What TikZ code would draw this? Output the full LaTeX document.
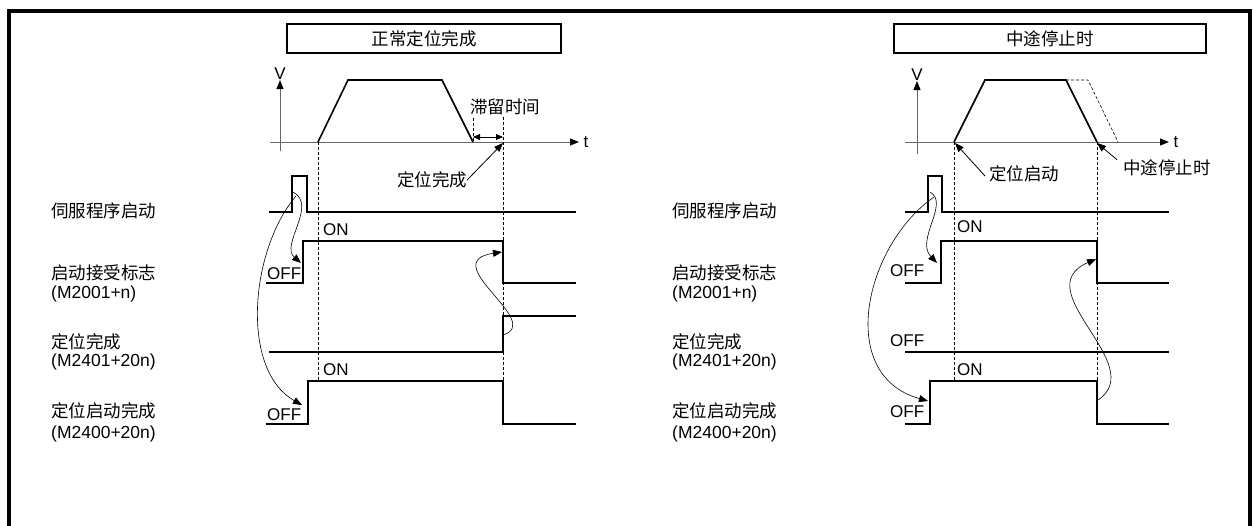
\documentclass[tikz,border=0pt]{standalone}
\usepackage{fontspec}
\setmainfont{Liberation Sans}
\newfontfamily\cjk{Noto Sans CJK SC}
\usetikzlibrary{positioning,arrows.meta}

\begin{document}
\begin{tikzpicture}[x=1pt, y=-1pt,
  lbl/.style={anchor=west, inner sep=0pt, font=\fontsize{17.5}{19}\selectfont\cjk},
  lat/.style={anchor=west, inner sep=0pt, font=\fontsize{17}{19}\selectfont},
  ttl/.style={draw, line width=1.5pt, minimum height=29pt, inner sep=0pt, font=\fontsize{17.5}{19}\selectfont\cjk},
  sig/.style={line width=1.6pt},
  ax/.style={draw=black!60, line width=1pt},
  guide/.style={line width=0.6pt, dash pattern=on 3pt off 2pt},
  arr/.style={-{Triangle[length=9pt, width=7pt, color=black]}},
  carr/.style={line width=0.6pt, -{Triangle[length=9pt, width=7pt]}}]
\useasboundingbox (0,0) rectangle (1253,525);
\clip (0,0) rectangle (1253,525);
\draw[line width=4pt] (9,540) -- (9,11) -- (1250,11) -- (1250,540);

% row labels
\foreach \dx/\s in {51/L, 672/R} {
  \node[lbl] (srv\s) at (\dx,211) {伺服程序启动};
  \node[lbl] (acc\s) at (\dx,273) {启动接受标志};
  \node[lat, font=\fontsize{17.5}{19}\selectfont] (accm\s) at (\dx,294) {(M2001+n)};
  \node[lbl] (dw\s) at (\dx,342) {定位完成};
  \node[lat, font=\fontsize{17.5}{19}\selectfont] (dwm\s) at (\dx,362) {(M2401+20n)};
  \node[lbl] (sd\s) at (\dx,411) {定位启动完成};
  \node[lat, font=\fontsize{17.5}{19}\selectfont] (sdm\s) at (\dx,434) {(M2400+20n)};
}

% normal positioning completion
\node[ttl, minimum width=274pt] (ttlL) at (424,38.5) {正常定位完成};
\draw[ax, arr] (280,151) -- (280,80) node[lat, anchor=south] (vL) {V};
\draw[ax, arr] (270,142) -- (579,142) node[lat, xshift=4pt] (tL) {t};
\draw[sig] (318,142) -- (348,80) -- (442,80) -- (473,142);
\draw[guide] (318,142) -- (318,381);
\draw[guide] (503,117) -- (503,381);
\draw[guide] (473,118) -- (473,142);
\node[lbl, anchor=center] (dwellL) at (505,107) {滞留时间};
\draw[line width=0.8pt, {Triangle[length=7pt, width=6pt]}-{Triangle[length=7pt, width=6pt]}] (473,137) -- (503,137);
\node[lbl, anchor=center] (donL) at (432,180) {定位完成};
\coordinate (endL) at (503,143);
\draw[line width=0.8pt, arr] (donL.east) -- (endL);

\draw[sig] (269,212) -- (292,212) -- (292,176) -- (307,176) -- (307,212) -- (576,212);
\draw[sig] (266,283) -- (303,283) -- (303,241) -- (503,241) -- (503,283) -- (576,283);
\draw[sig] (269,352) -- (503,352) -- (503,316) -- (576,316);
\draw[sig] (266,424) -- (308,424) -- (308,381) -- (503,381) -- (503,424) -- (576,424);
\node[lat] (on1L) at (323,230) {ON};
\node[lat] (on2L) at (323,370) {ON};
\node[lat] (off1L) at (267,273.5) {OFF};
\node[lat] (off2L) at (267,415) {OFF};

\coordinate (p1L) at (293,192);
\coordinate (p2L) at (296,196);
\coordinate (a1L) at (301,263);
\coordinate (a2L) at (302,405);
\coordinate (c1L) at (503,335);
\coordinate (a3L) at (502,252);
\draw[carr] (p1L) .. controls (318,205) and (280,245) .. (a1L);
\draw[carr] (p2L) .. controls (250,250) and (240,370) .. (a2L);
\draw[carr] (c1L) .. controls (545,322) and (435,262) .. (a3L);

% stop midway
\node[ttl, minimum width=312pt] (ttlR) at (1050,38.5) {中途停止时};
\draw[ax, arr] (917,154) -- (917,81) node[lat, anchor=south] (vR) {V};
\draw[ax, arr] (905,142) -- (1169,142) node[lat, xshift=4pt] (tR) {t};
\draw[sig] (954,142) -- (985,80) -- (1066,80) -- (1097,142);
\draw[guide] (1066,80) -- (1088,80) -- (1118,142);
\draw[guide] (954,142) -- (954,381);
\draw[guide] (1097,142) -- (1097,381);
\node[lbl] (qdR) at (989,174) {定位启动};
\node[lbl] (stopR) at (1123,168) {中途停止时};
\coordinate (begR) at (955,143);
\coordinate (endR) at (1097,143);
\draw[line width=0.8pt, arr] ([xshift=-4pt,yshift=-2pt]qdR.west) -- (begR);
\draw[line width=0.8pt, arr] ([xshift=-6pt]stopR.north west) -- (endR);

\draw[sig] (905,212) -- (928,212) -- (928,176) -- (942,176) -- (942,212) -- (1169,212);
\draw[sig] (905,283) -- (941,283) -- (941,241) -- (1097,241) -- (1097,283) -- (1169,283);
\draw[sig] (905,352) -- (1169,352);
\draw[sig] (905,424) -- (930,424) -- (930,381) -- (1097,381) -- (1097,424) -- (1169,424);
\node[lat] (on1R) at (957,227) {ON};
\node[lat] (on2R) at (957,370) {ON};
\node[lat] (off1R) at (890,271) {OFF};
\node[lat] (off2R) at (890,341) {OFF};
\node[lat] (off3R) at (890,412) {OFF};

\coordinate (p1R) at (930,192);
\coordinate (p2R) at (934,197);
\coordinate (a1R) at (937,263);
\coordinate (a2R) at (928,401);
\coordinate (c1R) at (1098,400);
\coordinate (a3R) at (1096,259);
\draw[carr] (p1R) .. controls (950,203) and (915,240) .. (a1R);
\draw[carr] (p2R) .. controls (865,245) and (835,375) .. (a2R);
\draw[carr] (c1R) .. controls (1150,365) and (1025,290) .. (a3R);
\end{tikzpicture}
\end{document}
